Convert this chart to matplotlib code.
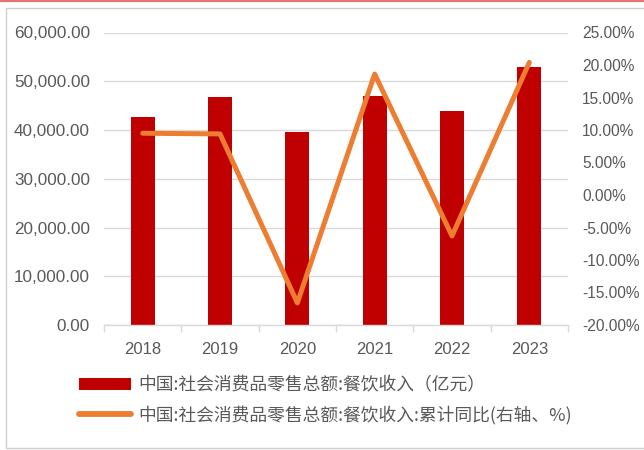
import matplotlib
matplotlib.use("Agg")
import matplotlib.pyplot as plt
import numpy as np
from matplotlib.lines import Line2D
from matplotlib.patches import Patch, Rectangle
from matplotlib.ticker import FuncFormatter, MultipleLocator

years = ["2018", "2019", "2020", "2021", "2022", "2023"]
revenue = [42716, 46721, 39527, 46895, 43941, 52890]   # 餐饮收入, 亿元
yoy = [9.5, 9.4, -16.6, 18.6, -6.3, 20.4]             # 累计同比, %

bar_label = "中国:社会消费品零售总额:餐饮收入（亿元）"
line_label = "中国:社会消费品零售总额:餐饮收入:累计同比(右轴、%)"

BAR_RED = "#C00000"
LINE_ORANGE = "#ED7D31"
TEXT_GREY = "#595959"
GRID_GREY = "#D9D9D9"

plt.rcParams["font.family"] = ["Liberation Sans", "Noto Sans CJK SC", "DejaVu Sans"]

fig = plt.figure(figsize=(6.44, 4.5), dpi=100)
W, H = 644, 450

# page decoration: thin red rule on top, grey frame round the chart
fig.add_artist(Line2D([0, 1], [1 - 1 / H, 1 - 1 / H], color="#E57373", lw=1.6,
                      transform=fig.transFigure))
fig.add_artist(Rectangle((5.5 / W, 1 - 448 / H), 1.0, (448 - 8) / H,
                         transform=fig.transFigure, fill=False,
                         edgecolor="#D0D0D0", lw=1.0))

ax = fig.add_axes([104 / W, 1 - 325 / H, (568 - 104) / W, (325 - 32.5) / H])
x = np.arange(len(years))

ax.bar(x, revenue, width=0.31, color=BAR_RED, zorder=2)
ax.set_xlim(-0.5, len(years) - 0.5)
ax.set_ylim(0, 60000)
ax.yaxis.set_major_locator(MultipleLocator(10000))
ax.yaxis.set_major_formatter(FuncFormatter(lambda v, p: f"{v:,.2f}"))
ax.grid(axis="y", color=GRID_GREY, lw=1.0, zorder=0)
ax.set_axisbelow(True)

# year labels at the centres, tick marks at category boundaries
ax.set_xticks(x)
ax.set_xticklabels(years)
ax.set_xticks(np.arange(-0.5, len(years)), minor=True)
ax.tick_params(axis="x", which="major", length=0, pad=12.5, labelsize=12,
               labelcolor=TEXT_GREY)
ax.tick_params(axis="x", which="minor", length=5, width=1, color=GRID_GREY)
ax.tick_params(axis="y", length=0, pad=10, labelsize=12.3, labelcolor=TEXT_GREY)

for side in ["top", "left", "right"]:
    ax.spines[side].set_visible(False)
ax.spines["bottom"].set_color(GRID_GREY)
ax.spines["bottom"].set_linewidth(1.0)

ax2 = ax.twinx()
ax2.plot(x, yoy, color=LINE_ORANGE, lw=3.6, solid_capstyle="round",
         solid_joinstyle="round", zorder=3)
ax2.set_ylim(-20, 25)
ax2.yaxis.set_major_locator(MultipleLocator(5))
ax2.yaxis.set_major_formatter(FuncFormatter(lambda v, p: f"{v:.2f}%"))
ax2.tick_params(axis="y", length=0, pad=10, labelsize=11.2, labelcolor=TEXT_GREY)
for side in ["top", "left", "right", "bottom"]:
    ax2.spines[side].set_visible(False)

handles = [
    Patch(facecolor=BAR_RED, edgecolor="none", label=bar_label),
    Line2D([0], [0], color=LINE_ORANGE, lw=4.2, solid_capstyle="round",
           label=line_label),
]
fig.legend(handles=handles, loc="upper left",
           bbox_to_anchor=(79 / W, 1 - 376 / H), frameon=False,
           prop={"family": ["Noto Sans CJK SC", "DejaVu Sans"], "size": 12.8},
           labelcolor=TEXT_GREY, handlelength=2.9, handleheight=0.65,
           handletextpad=0.45, labelspacing=0.65, borderaxespad=0,
           borderpad=0)

fig.savefig("out.png", dpi=100)
